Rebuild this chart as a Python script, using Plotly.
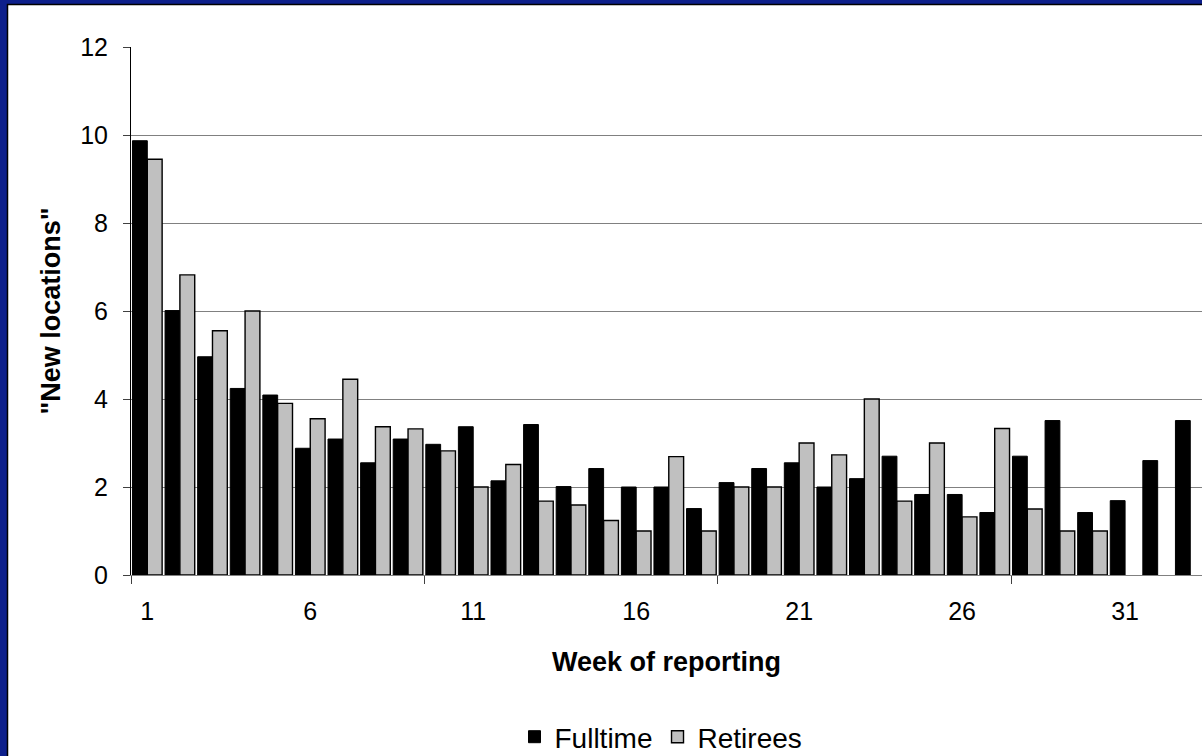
import plotly.graph_objects as go

weeks = list(range(1, 34))
fulltime = [9.87, 6.01, 4.96, 4.24, 4.09, 2.88, 3.09, 2.55, 3.09, 2.97,
            3.37, 2.14, 3.42, 2.01, 2.42, 2.0, 2.0, 1.51, 2.10, 2.42,
            2.55, 2.0, 2.19, 2.70, 1.83, 1.83, 1.42, 2.70, 3.51, 1.42,
            1.69, 2.60, 3.51]
retirees = [9.45, 6.82, 5.55, 6.0, 3.90, 3.55, 4.45, 3.37, 3.32, 2.82,
            2.0, 2.51, 1.68, 1.59, 1.24, 1.0, 2.69, 1.0, 2.0, 2.0,
            3.0, 2.73, 4.0, 1.68, 3.0, 1.32, 3.33, 1.50, 1.0, 1.0,
            None, None, None]
label_weeks = [1, 6, 11, 16, 21, 26, 31]
boundary_ticks = [0.5, 9.5, 18.5, 27.5]
y_ticks = [0, 2, 4, 6, 8, 10, 12]

W, H = 1202, 756
L, R, T, B = 131, 0, 47, 181
pw, ph = W - L - R, H - T - B

def px_x(p):
    return (p - L) / pw

def px_y(p):
    return (H - B - p) / ph

FONT = "Liberation Sans, Arial, sans-serif"

fig = go.Figure()
fig.add_trace(go.Bar(x=weeks, y=fulltime, name="Fulltime",
                     marker=dict(color="#000000", line=dict(color="#000000", width=1))))
fig.add_trace(go.Bar(x=weeks, y=retirees, name="Retirees",
                     marker=dict(color="#c0c0c0", line=dict(color="#000000", width=1.4))))

# invisible helper trace on the overlay axis for boundary tick marks
fig.add_trace(go.Scatter(x=[boundary_ticks[0]], y=[0], xaxis="x2", mode="markers",
                         marker=dict(opacity=0), showlegend=False, hoverinfo="skip"))

xrange = [0.5, 33.36]

fig.update_layout(
    width=W, height=H,
    margin=dict(l=L, r=R, t=T, b=B, pad=0, autoexpand=False),
    paper_bgcolor="#0d1f8b",
    plot_bgcolor="rgba(0,0,0,0)",
    barmode="group", bargap=0.09, bargroupgap=0,
    font=dict(family=FONT, color="#000000"),
    showlegend=True,
    legend=dict(orientation="h", x=px_x(661), y=px_y(737), xanchor="center", yanchor="middle",
                font=dict(size=28, family=FONT), bgcolor="rgba(0,0,0,0)",
                itemclick=False, itemdoubleclick=False, traceorder="normal",
                itemwidth=30, tracegroupgap=0),
    xaxis=dict(range=xrange, tickmode="array", tickvals=label_weeks,
               ticktext=[str(v) for v in label_weeks], ticks="", automargin=False,
               showgrid=False, zeroline=False, showline=True, linecolor="#808080", linewidth=1,
               tickfont=dict(size=25), ticklabelstandoff=14,
               title=dict(text="<b>Week of reporting</b>", font=dict(size=27), standoff=28)),
    xaxis2=dict(range=xrange, overlaying="x", side="bottom", tickmode="array",
                tickvals=boundary_ticks, ticks="outside", ticklen=8, tickcolor="#404040",
                showticklabels=False, showgrid=False, zeroline=False, showline=False,
                automargin=False),
    yaxis=dict(range=[0, 12], tickmode="array", tickvals=y_ticks, automargin=False,
               ticks="outside", ticklen=7, tickcolor="#404040",
               showgrid=True, gridcolor="#808080", gridwidth=1,
               zeroline=False, showline=True, linecolor="#000000", linewidth=1,
               tickfont=dict(size=25), ticklabelstandoff=10,
               title=dict(text="<b>\"New locations\"</b>", font=dict(size=27), standoff=11)),
    shapes=[dict(type="rect", xref="paper", yref="paper",
                 x0=px_x(7.5), x1=px_x(1215), y0=px_y(770), y1=px_y(4.5),
                 fillcolor="#ffffff", line=dict(color="#000000", width=1.5), layer="below")],
)

fig.write_html("out.html", config={"displayModeBar": False},
               post_script="document.body.style.margin='0px';document.body.style.overflow='hidden';")
